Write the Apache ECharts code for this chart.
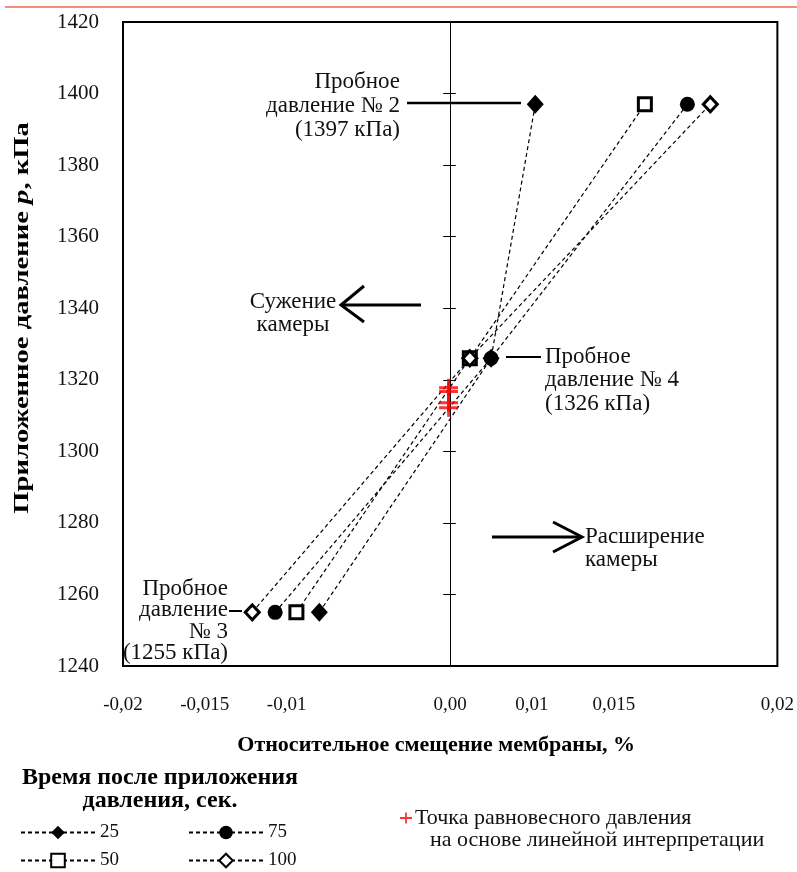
<!DOCTYPE html>
<html>
<head>
<meta charset="utf-8">
<script src="https://cdn.jsdelivr.net/npm/echarts@6/dist/echarts.min.js"></script>
<style>
  html, body { margin: 0; padding: 0; background: #fff; }
  #chart { width: 797px; height: 872px; }
</style>
</head>
<body>
<div id="chart"></div>
<script>
// Test pressures (kPa) and membrane displacement (%) per hold time
const pressures = [1255, 1326, 1397];
const holdTimes = ['25', '50', '75', '100'];
const disp25 = [-0.0080, 0.0025, 0.0052];
const disp50 = [-0.0094, 0.0012, 0.0119];
const disp75 = [-0.0107, 0.0025, 0.0145];
const disp100 = [-0.0121, 0.0012, 0.0159];

// Equilibrium points from the linear interpretation
const eqDisp = [-0.0001, -0.0001, -0.0001, -0.0001];
const eqPressure = [1317.8, 1316.7, 1313.6, 1312.2];

// Axis ticks and their printed labels
const xTickValues = [-0.02, -0.015, -0.01, -0.005, 0, 0.005, 0.01, 0.015, 0.02];
const xTickLabels = ['-0,02', '-0,015', '-0,01', '', '0,00', '0,01', '0,015', '', '0,02'];
const yTickValues = [1240, 1260, 1280, 1300, 1320, 1340, 1360, 1380, 1400, 1420];

const SERIF = 'Liberation Serif';
const plusPath = 'path://M0,7.5 H20 V10.5 H0 Z M8.5,0 H11.5 V18 H8.5 Z';

function pairs(xs) { return xs.map((x, i) => [x, pressures[i]]); }

const dashed = { color: '#000', width: 1.2, type: [4, 3] };
const filled = { color: '#000' };
const hollow = { color: '#fff', borderColor: '#000', borderWidth: 3 };

const seriesDefs = [
  { name: holdTimes[0], data: disp25, symbol: 'diamond', symbolSize: [17, 19], itemStyle: filled },
  { name: holdTimes[1], data: disp50, symbol: 'rect', symbolSize: 13, itemStyle: hollow },
  { name: holdTimes[2], data: disp75, symbol: 'circle', symbolSize: 15, itemStyle: filled },
  { name: holdTimes[3], data: disp100, symbol: 'diamond', symbolSize: [14, 15], itemStyle: hollow }
];

const chart = echarts.init(document.getElementById('chart'), null, { renderer: 'canvas' });

const gridLeft = 123, gridRight = 17;
const gridWidth = 797 - gridLeft - gridRight;

const ANN = '23px "Liberation Serif"';
function txt(text, x, y, align, font) {
  return { type: 'text', style: { text, x, y, align, verticalAlign: 'middle', font: font || ANN, fill: '#111' } };
}

// one legend box per hold time, laid out as two columns of two rows
const legendSlots = [[20, 823], [20, 851], [188, 823], [188, 851]];
const legendOrder = [holdTimes[0], holdTimes[1], holdTimes[2], holdTimes[3]];
const timeLegends = legendOrder.map((name, i) => ({
  data: [name], left: legendSlots[i][0], top: legendSlots[i][1], padding: 0,
  itemWidth: 74, itemHeight: 17,
  textStyle: { fontFamily: SERIF, fontSize: 19, color: '#111' }
}));

const option = {
  animation: false,
  backgroundColor: '#fff',
  grid: { left: gridLeft, right: gridRight, top: 22, bottom: 206, show: true, borderColor: '#000', borderWidth: 2 },
  xAxis: {
    type: 'value', min: -0.02, max: 0.02, interval: 0.005,
    axisLine: { show: false, onZero: false },
    axisTick: { show: false },
    splitLine: { show: false },
    axisLabel: {
      margin: 30, fontFamily: SERIF, fontSize: 19, color: '#111',
      formatter: v => xTickLabels[Math.round((v - xTickValues[0]) / 0.005)] || ''
    },
    name: 'Относительное смещение мембраны, %',
    nameLocation: 'middle', nameGap: 68,
    nameTextStyle: { fontFamily: SERIF, fontSize: 22, fontWeight: 'bold', color: '#000', padding: [0, 28, 0, 0] }
  },
  yAxis: [
    {
      type: 'value', min: yTickValues[0], max: yTickValues[yTickValues.length - 1], interval: 20,
      position: 'left',
      axisLine: { show: false, onZero: false },
      axisTick: { show: false },
      splitLine: { show: false },
      axisLabel: { margin: 24, fontFamily: SERIF, fontSize: 21, color: '#111', formatter: v => String(v) }
    },
    {
      // vertical line through zero displacement, ticks to the left
      type: 'value', min: 1240, max: 1420, interval: 20,
      position: 'left',
      axisLine: { show: true, onZero: true, lineStyle: { color: '#000', width: 1 } },
      axisTick: { show: true, inside: false, length: 7, lineStyle: { color: '#000', width: 1 } },
      axisLabel: { show: false },
      splitLine: { show: false }
    },
    {
      // same zero line, ticks to the right
      type: 'value', min: 1240, max: 1420, interval: 20,
      position: 'right', offset: -gridWidth / 2,
      axisLine: { show: false, onZero: false },
      axisTick: { show: true, inside: false, length: 7, lineStyle: { color: '#000', width: 1 } },
      axisLabel: { show: false },
      splitLine: { show: false }
    }
  ],
  legend: timeLegends.concat([
    {
      data: ['Точка равновесного давления'], left: 400, top: 807, padding: 0,
      itemWidth: 12, itemHeight: 12, itemGap: 4,
      textStyle: { fontFamily: SERIF, fontSize: 22, color: '#111', padding: [0, 0, 0, -2] }
    }
  ]),
  series: seriesDefs.map(d => ({
    type: 'line', name: d.name, data: pairs(d.data),
    symbol: d.symbol, symbolSize: d.symbolSize,
    showSymbol: true,
    lineStyle: dashed,
    itemStyle: d.itemStyle,
    z: 3
  })).concat([{
    type: 'scatter', name: 'Точка равновесного давления',
    data: eqDisp.map((x, i) => [x, eqPressure[i]]),
    symbol: plusPath, symbolSize: [19, 18],
    itemStyle: { color: '#ff0000' },
    z: 5
  }]),
  graphic: [
    // thin rule across the top of the page
    { type: 'line', shape: { x1: 5, y1: 7, x2: 797, y2: 7 }, style: { stroke: '#ef6a48', lineWidth: 1.5 } },

    // vertical axis title (p in italics)
    {
      type: 'text', x: 22, y: 318, rotation: Math.PI / 2, scaleX: 1.3,
      style: {
        text: '{b|Приложенное давление }{i|p}{b|, кПа}', align: 'center', verticalAlign: 'middle',
        rich: {
          b: { font: 'bold 22px "Liberation Serif"', fill: '#000' },
          i: { font: 'italic bold 22px "Liberation Serif"', fill: '#000' }
        }
      }
    },

    // Test pressure 2
    txt('Пробное', 400, 82, 'right'),
    txt('давление № 2', 400, 106, 'right'),
    txt('(1397 кПа)', 400, 130, 'right'),
    { type: 'line', shape: { x1: 407, y1: 103, x2: 521, y2: 103 }, style: { stroke: '#000', lineWidth: 2.5 } },

    // Test pressure 4
    txt('Пробное', 545, 357, 'left'),
    txt('давление № 4', 545, 380, 'left'),
    txt('(1326 кПа)', 545, 404, 'left'),
    { type: 'line', shape: { x1: 506, y1: 357, x2: 541, y2: 357 }, style: { stroke: '#000', lineWidth: 2 } },

    // Test pressure 3
    txt('Пробное', 228, 589, 'right'),
    txt('давление', 228, 610, 'right'),
    txt('№ 3', 228, 632, 'right'),
    txt('(1255 кПа)', 228, 653, 'right'),
    { type: 'line', shape: { x1: 229, y1: 611, x2: 242, y2: 611 }, style: { stroke: '#000', lineWidth: 2 } },

    // Chamber contraction
    txt('Сужение', 293, 302, 'center'),
    txt('камеры', 293, 325, 'center'),
    { type: 'line', shape: { x1: 421, y1: 305, x2: 342, y2: 305 }, style: { stroke: '#000', lineWidth: 3 } },
    { type: 'polyline', shape: { points: [[364, 286], [341, 305], [364, 322]] }, style: { stroke: '#000', lineWidth: 3, fill: null } },

    // Chamber expansion
    txt('Расширение', 585, 537, 'left'),
    txt('камеры', 585, 560, 'left'),
    { type: 'line', shape: { x1: 492, y1: 537, x2: 581, y2: 537 }, style: { stroke: '#000', lineWidth: 3 } },
    { type: 'polyline', shape: { points: [[553, 522], [582, 537], [553, 552]] }, style: { stroke: '#000', lineWidth: 3, fill: null } },

    // Legend heading and second line of the equilibrium entry
    { type: 'text', style: { text: 'Время после приложения', x: 160, y: 778, align: 'center', verticalAlign: 'middle', font: 'bold 24px "Liberation Serif"', fill: '#000' } },
    { type: 'text', style: { text: 'давления, сек.', x: 160, y: 801, align: 'center', verticalAlign: 'middle', font: 'bold 24px "Liberation Serif"', fill: '#000' } },
    txt('на основе линейной интерпретации', 430, 840, 'left', '22px "Liberation Serif"')
  ]
};

chart.setOption(option);
</script>
</body>
</html>
